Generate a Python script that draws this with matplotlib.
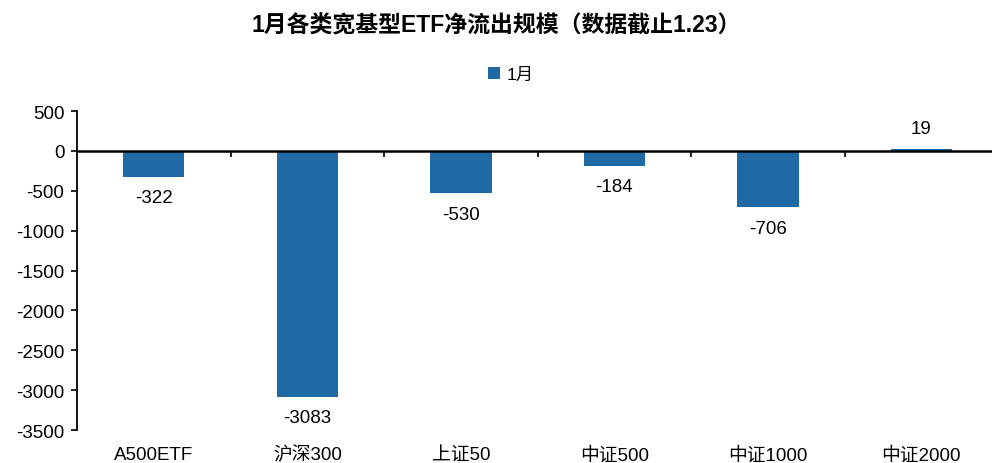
import matplotlib
matplotlib.use("Agg")
import matplotlib.pyplot as plt
import numpy as np

plt.rcParams['font.family'] = ['Liberation Sans', 'Noto Sans CJK SC', 'DejaVu Sans']

categories = ["A500ETF", "沪深300", "上证50", "中证500", "中证1000", "中证2000"]
values = [-322, -3083, -530, -184, -706, 19]
series_name = "1月"
title = "1月各类宽基型ETF净流出规模（数据截止1.23）"
yticks = [500, 0, -500, -1000, -1500, -2000, -2500, -3000, -3500]

color = "#1F6AA5"

fig = plt.figure(figsize=(9.92, 4.64), dpi=100)
ax = fig.add_axes([0.0776, 0.0711, 0.9224, 0.6875])

x = np.arange(len(categories))
bars = ax.bar(x, values, width=0.4, color=color, label=series_name, zorder=2)

ax.set_xlim(-0.5, 5.46)
ax.set_ylim(-3500, 500)
ax.set_yticks(yticks)
ax.set_yticklabels([str(t) for t in yticks], fontsize=13.5)
ax.tick_params(axis='y', direction='out', length=4, width=1.2, pad=5)

for s in ['top', 'right']:
    ax.spines[s].set_visible(False)
ax.spines['left'].set_linewidth(1.3)
ax.spines['bottom'].set_position(('data', 0))
ax.spines['bottom'].set_linewidth(1.8)
ax.spines['bottom'].set_zorder(3)

ax.set_xticks(np.arange(len(categories) - 1) + 0.5)
ax.set_xticklabels([])
ax.tick_params(axis='x', direction='out', length=4, width=1.2)

for xi, cat in zip(x, categories):
    ax.text(xi, -0.05, cat, transform=ax.get_xaxis_transform(), ha='center', va='top', fontsize=13.5)

for xi, v in zip(x, values):
    if v < 0:
        ax.annotate(str(v), (xi, v), xytext=(0, -9), textcoords='offset points', ha='center', va='top', fontsize=13.5)
    else:
        ax.annotate(str(v), (xi, v), xytext=(0, 9), textcoords='offset points', ha='center', va='bottom', fontsize=13.5)

fig.text(0.5, 0.945, title, ha='center', va='center', fontsize=16.5, fontweight='bold')
leg = fig.legend(loc='center', bbox_to_anchor=(0.515, 0.838), frameon=False, fontsize=12.5,
                 handlelength=0.7, handleheight=0.7, handletextpad=0.4)

fig.savefig("out.png", dpi=100)
